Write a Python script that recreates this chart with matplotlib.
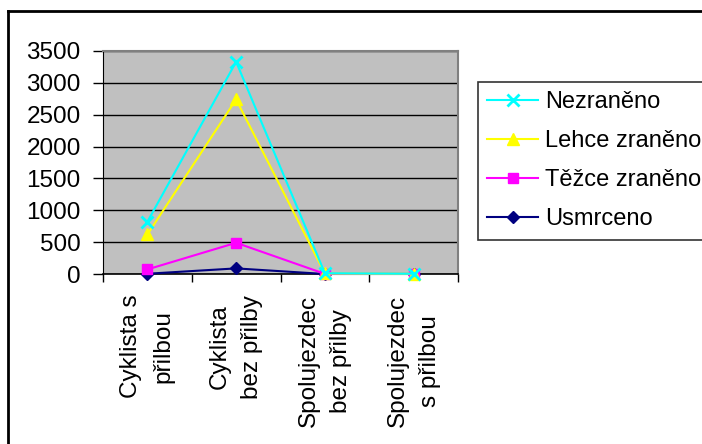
import matplotlib
matplotlib.use("Agg")
import matplotlib.pyplot as plt
from matplotlib.lines import Line2D
import numpy as np

plt.rcParams['font.family'] = ['Liberation Sans', 'DejaVu Sans']

categories = ["Cyklista s\npřilbou", "Cyklista\nbez přilby",
              "Spolujezdec\nbez přilby", "Spolujezdec\ns přilbou"]
series_names = ["Nezraněno", "Lehce zraněno", "Těžce zraněno", "Usmrceno"]
nezraneno = [820, 3330, 12, 4]
lehce = [620, 2740, 8, 3]
tezce = [72, 490, 2, 1]
usmrceno = [4, 88, 0, 0]

colors = ["#00FFFF", "#FFFF00", "#FF00FF", "#000080"]
markers = ["x", "^", "s", "D"]
msizes = [8, 9, 7, 6]
FS = 17.5

fig = plt.figure(figsize=(7.02, 4.44), dpi=100)
ax = fig.add_axes([103 / 702, 1 - 274 / 444, 355 / 702, 223 / 444])
ax.set_facecolor("#C0C0C0")

x = np.arange(len(categories))
for vals, name, c, m, ms in zip([nezraneno, lehce, tezce, usmrceno][::-1],
                                series_names[::-1], colors[::-1],
                                markers[::-1], msizes[::-1]):
    mew = 2 if m == "x" else 1
    ax.plot(x, vals, color=c, lw=1.5, marker=m, ms=ms, mew=mew,
            mec=c, mfc=c, label=name, clip_on=False, zorder=3)

ax.set_xlim(-0.5, 3.5)
ax.set_ylim(0, 3500)
ax.set_yticks(np.arange(0, 3501, 500))
ax.yaxis.grid(True, color="black", lw=1)
ax.set_axisbelow(True)
ax.tick_params(axis="y", labelsize=FS, length=7, width=1, direction="out", pad=9)

ax.set_xticks(x)
ax.set_xticklabels(categories, rotation=90, fontsize=FS, linespacing=1.6,
                   multialignment="center", va="top")
ax.set_xticks(np.arange(-0.5, 3.6, 1), minor=True)
ax.tick_params(axis="x", which="major", length=0, pad=15)
ax.tick_params(axis="x", which="minor", length=6, width=1, direction="out")

for side in ["top", "right"]:
    ax.spines[side].set_color("#808080")
    ax.spines[side].set_linewidth(1.5)
ax.spines["left"].set_color("black")
ax.spines["bottom"].set_color("black")
ax.spines["bottom"].set_linewidth(1.2)

handles = [Line2D([0], [0], color=c, lw=1.5, marker=m, ms=ms,
                  mew=(2 if m == "x" else 1), mec=c, mfc=c)
           for c, m, ms in zip(colors, markers, msizes)]
leg = fig.legend(handles, series_names, loc="upper left",
                 bbox_to_anchor=(478 / 702, 1 - 82 / 444),
                 fontsize=17, frameon=True, fancybox=False,
                 handlelength=2.15, handletextpad=0.3, labelspacing=0.72,
                 borderpad=0.4, borderaxespad=0)
leg.get_frame().set_edgecolor("black")
leg.get_frame().set_linewidth(1.2)

# chart frame: only the top and left edges fall inside the image
fig.add_artist(Line2D([8 / 702, 8 / 702], [0, 1 - 11 / 444], color="black",
                      lw=2, transform=fig.transFigure))
fig.add_artist(Line2D([8 / 702, 1], [1 - 11 / 444, 1 - 11 / 444], color="black",
                      lw=2, transform=fig.transFigure))

fig.savefig("out.png", dpi=100)
